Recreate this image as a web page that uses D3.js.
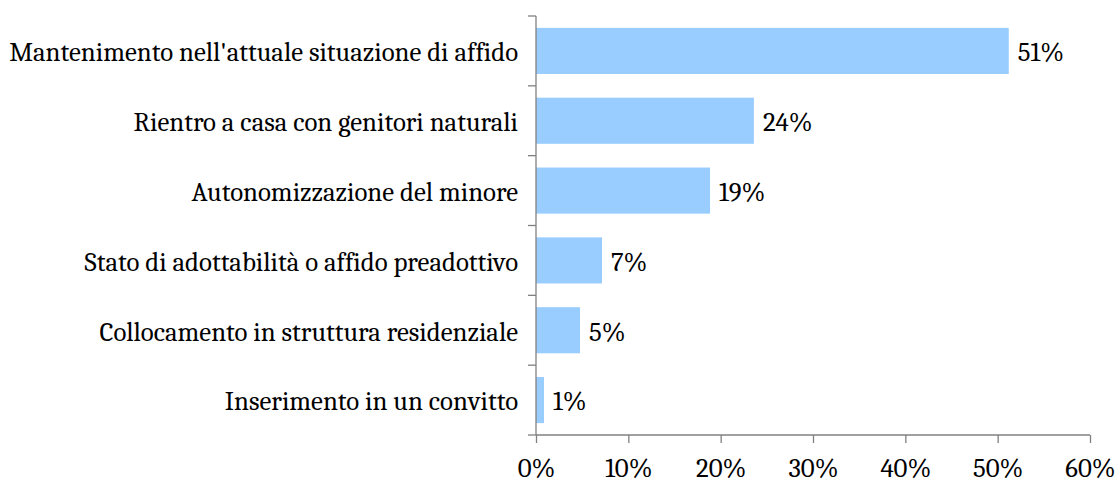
<!DOCTYPE html>
<html>
<head>
<meta charset="utf-8">
<script src="https://cdnjs.cloudflare.com/ajax/libs/d3/7.8.5/d3.min.js"></script>
<style>
  body { margin: 0; background: #fff; }
  text { font-family: Cambria, "Liberation Serif", "DejaVu Serif", serif; fill: #000; }
</style>
</head>
<body>
<div class="chart"></div>
<script>
var categories = [
  "Mantenimento nell'attuale situazione di affido",
  "Rientro a casa con genitori naturali",
  "Autonomizzazione del minore",
  "Stato di adottabilità o affido preadottivo",
  "Collocamento in struttura residenziale",
  "Inserimento in un convitto"
];
var values = [51.2, 23.6, 18.85, 7.15, 4.77, 0.87];
var valueLabels = ["51%", "24%", "19%", "7%", "5%", "1%"];
var xTicks = [0, 10, 20, 30, 40, 50, 60];

var w = 1118, h = 485;
var margin = {top: 16, right: 28, bottom: 50, left: 536};
var fontSize = 26.8;

var svg = d3.select(".chart").append("svg").attr("width", w).attr("height", h);
var g = svg.append("g").attr("transform", "translate(" + margin.left + "," + margin.top + ")");

var iw = w - margin.left - margin.right;
var ih = h - margin.top - margin.bottom;

var x = d3.scaleLinear().domain([0, 60]).range([0, iw]);
var y = d3.scaleBand().domain(categories).range([0, ih]).paddingInner(0.34).paddingOuter(0.17);

// bars
g.selectAll("rect")
  .data(values)
  .enter()
  .append("rect")
  .attr("x", 0)
  .attr("y", function(d, i){ return y(categories[i]); })
  .attr("width", function(d){ return x(d); })
  .attr("height", y.bandwidth())
  .attr("fill", "#99ccff");

// value labels
g.selectAll("text.val")
  .data(values)
  .enter()
  .append("text")
  .attr("class", "val")
  .attr("x", function(d){ return x(d) + 9; })
  .attr("y", function(d, i){ return y(categories[i]) + y.bandwidth() / 2 + 1; })
  .attr("dy", "0.35em")
  .style("font-size", fontSize + "px")
  .text(function(d, i){ return valueLabels[i]; });

// y axis: ticks at band boundaries
var step = ih / categories.length;
var yAxis = g.append("g");
yAxis.append("line").attr("x1", 0).attr("x2", 0).attr("y1", 0).attr("y2", ih)
  .attr("stroke", "#808080").attr("stroke-width", 1.3);
yAxis.selectAll("line.tk")
  .data(d3.range(categories.length + 1))
  .enter()
  .append("line")
  .attr("class", "tk")
  .attr("x1", -8).attr("x2", 0)
  .attr("y1", function(d){ return d * step; })
  .attr("y2", function(d){ return d * step; })
  .attr("stroke", "#808080").attr("stroke-width", 1.3);
yAxis.selectAll("text")
  .data(categories)
  .enter()
  .append("text")
  .attr("x", -18)
  .attr("y", function(d){ return y(d) + y.bandwidth() / 2 + 1; })
  .attr("dy", "0.35em")
  .attr("text-anchor", "end")
  .style("font-size", fontSize + "px")
  .text(function(d){ return d; });

// x axis
var xAxis = g.append("g").attr("transform", "translate(0," + ih + ")")
  .call(d3.axisBottom(x).tickValues(xTicks).tickSize(8).tickPadding(15)
    .tickFormat(function(d){ return d + "%"; }));
xAxis.select(".domain").attr("stroke", "#808080").attr("stroke-width", 1.3)
  .attr("d", "M0,0H" + iw);
xAxis.selectAll(".tick line").attr("stroke", "#808080").attr("stroke-width", 1.3);
xAxis.selectAll(".tick text").style("font-size", fontSize + "px")
  .style("font-family", "Cambria, 'Liberation Serif', 'DejaVu Serif', serif").attr("fill", "#000");
</script>
</body>
</html>
